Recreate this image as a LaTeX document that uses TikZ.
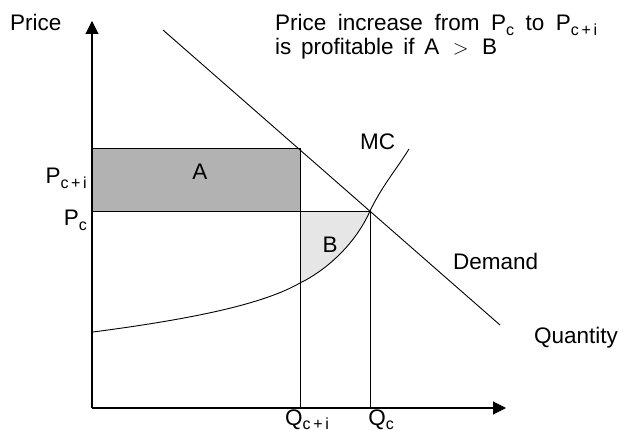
\documentclass[tikz,border=0pt]{standalone}
\usepackage{fontspec}
\setmainfont{Liberation Sans}
\usetikzlibrary{arrows.meta}
\newcommand{\sbs}[1]{\raisebox{-0.35ex}{\fontsize{16}{16}\selectfont #1}}
\begin{document}
\begin{tikzpicture}[x=1pt,y=-1pt,
  lbl/.style={font=\fontsize{22.5}{27}\selectfont, inner sep=0pt},
  ln/.style={line width=0.9pt},
  axis/.style={line width=1.1pt,-{Triangle[width=13pt,length=13pt]}}]
\useasboundingbox (0,0) rectangle (621,430);
\coordinate (O) at (92,408);
\coordinate (ytop) at (92,21);
\coordinate (xend) at (506,408);
\coordinate (d1) at (163,30);
\coordinate (d2) at (500,325);
\coordinate (E) at (370,211);
\coordinate (F) at (300,211);
\coordinate (G) at (300,148);
\coordinate (H) at (92,148);
\coordinate (I) at (92,211);
\coordinate (Fb) at (300,408);
\coordinate (Eb) at (370,408);
\coordinate (mc0) at (93,332);
\coordinate (mc1) at (300,283);
\coordinate (mc2) at (409,149);
% fills
\fill[fill={rgb,255:red,178;green,178;blue,178}] (I) rectangle (G);
\fill[fill={rgb,255:red,230;green,230;blue,230}] (F) -- (E) .. controls (355,245) and (325,271) .. (mc1) -- cycle;
% lines
\draw[ln] (I) rectangle (G);
\draw[ln] (I) -- (E);
\draw[ln] (F) -- (Fb);
\draw[ln] (E) -- (Eb);
\draw[ln] (d1) -- (d2);
\draw[ln] (mc0) .. controls (200,318) and (265,303) .. (mc1) .. controls (325,271) and (355,245) .. (E) .. controls (382,186) and (396,170) .. (mc2);
\draw[axis] (O) -- (ytop);
\draw[axis] (O) -- (xend);
% labels
\node[lbl, anchor=base west] (price) at (10,31) {Price};
\node[lbl, anchor=base west] (quant) at (534,343) {Quantity};
\node[lbl, anchor=base west] (dem) at (453,270) {Demand};
\node[lbl, anchor=base west] (mc) at (360,150) {MC};
\node[lbl, anchor=base] (A) at (200,180) {A};
\node[lbl, anchor=base] (B) at (330,253) {B};
\node[lbl, anchor=base east] (pci) at (87,184) {P\sbs{c\,+\,i}};
\node[lbl, anchor=base east] (pc) at (87,226) {P\sbs{c}};
\node[lbl, anchor=base] (qci) at (307,425) {Q\sbs{c\,+\,i}};
\node[lbl, anchor=base] (qc) at (381,425) {Q\sbs{c}};
\node[lbl, anchor=base west] (t1) at (275,31) {\makebox[322pt][s]{Price increase from P\sbs{c} to P\sbs{c\,+\,i}}};
\node[lbl, anchor=base west] (t2) at (275,55) {\makebox[222pt][s]{is profitable if A \,$>$\, B}};
\end{tikzpicture}
\end{document}
